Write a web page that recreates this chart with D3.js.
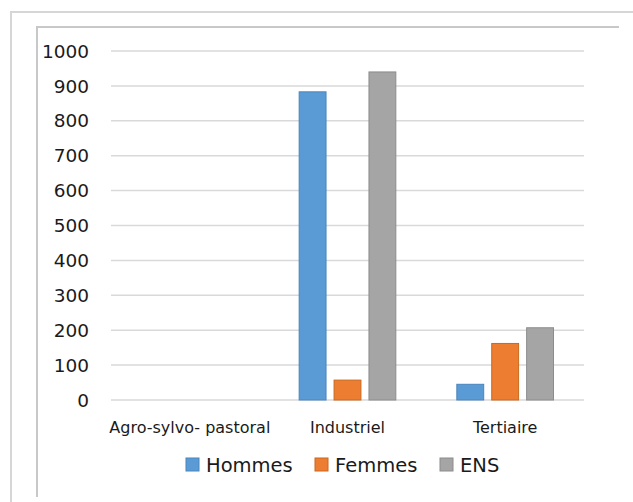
<!DOCTYPE html>
<html>
<head>
<meta charset="utf-8">
<script src="https://cdn.jsdelivr.net/npm/d3@7"></script>
<style>
  html, body { margin: 0; padding: 0; background: #fff; }
  svg { display: block; }
  text { font-family: "DejaVu Sans", sans-serif; fill: #1a1a1a; }
</style>
</head>
<body>
<svg id="chart" width="633" height="502"></svg>
<script>
const categories = ["Agro-sylvo- pastoral", "Industriel", "Tertiaire"];
const seriesNames = ["Hommes", "Femmes", "ENS"];
const hommes = [0, 883, 45];
const femmes = [0, 57, 162];
const ens = [0, 940, 207];
const yTicks = [0, 100, 200, 300, 400, 500, 600, 700, 800, 900, 1000];

const seriesValues = [hommes, femmes, ens];
const fills = ["#5b9bd5", "#ed7d31", "#a5a5a5"];
const strokes = ["#4a85bd", "#c9691f", "#8c8c8c"];

const svg = d3.select("#chart");

// frames
svg.append("path").attr("d", "M11,502 L11,12 L633,12")
  .attr("fill", "none").attr("stroke", "#d6d6d6").attr("stroke-width", 2);
svg.append("path").attr("d", "M37,497 L37,27 L619,27")
  .attr("fill", "none").attr("stroke", "#c8c8c8").attr("stroke-width", 2);

const x0 = d3.scaleBand().domain(categories).range([111, 584]);
const x1 = d3.scaleBand().domain(seriesNames)
  .range([30.5, x0.bandwidth() - 30.5]).paddingInner(0.23);
const y = d3.scaleLinear().domain([0, 1000]).range([400, 51]);

// gridlines
const grid = svg.append("g");
grid.selectAll("line").data(yTicks).join("line")
  .attr("x1", 111).attr("x2", 584)
  .attr("y1", d => y(d)).attr("y2", d => y(d))
  .attr("stroke", "#d9d9d9").attr("stroke-width", 1.5);

// y labels
svg.append("g").selectAll("text").data(yTicks).join("text")
  .attr("x", 89).attr("y", d => y(d) + 6.6)
  .attr("text-anchor", "end")
  .style("font-size", "18.5px")
  .text(d => d);

// bars
const groups = svg.append("g").selectAll("g").data(categories).join("g")
  .attr("transform", d => `translate(${x0(d)},0)`);
groups.selectAll("rect")
  .data((c, ci) => seriesNames.map((s, si) => ({ s, si, v: seriesValues[si][ci] })))
  .join("rect")
  .filter(d => d.v > 0)
  .attr("x", d => x1(d.s))
  .attr("width", x1.bandwidth())
  .attr("y", d => y(d.v))
  .attr("height", d => y(0) - y(d.v))
  .attr("fill", d => fills[d.si])
  .attr("stroke", d => strokes[d.si])
  .attr("stroke-width", 1);

// category labels
svg.append("g").selectAll("text").data(categories).join("text")
  .attr("x", d => x0(d) + x0.bandwidth() / 2)
  .attr("y", 433)
  .attr("text-anchor", "middle")
  .style("font-size", "16px")
  .text(d => d);

// legend
const legendX = [186, 315, 440];
const leg = svg.append("g").selectAll("g").data(seriesNames).join("g")
  .attr("transform", (d, i) => `translate(${legendX[i]},458)`);
leg.append("rect").attr("width", 13).attr("height", 13)
  .attr("fill", (d, i) => fills[i]).attr("stroke", (d, i) => strokes[i]).attr("stroke-width", 1);
leg.append("text").attr("x", 20).attr("y", 13.5)
  .style("font-size", "19.5px")
  .text(d => d);
</script>
</body>
</html>
